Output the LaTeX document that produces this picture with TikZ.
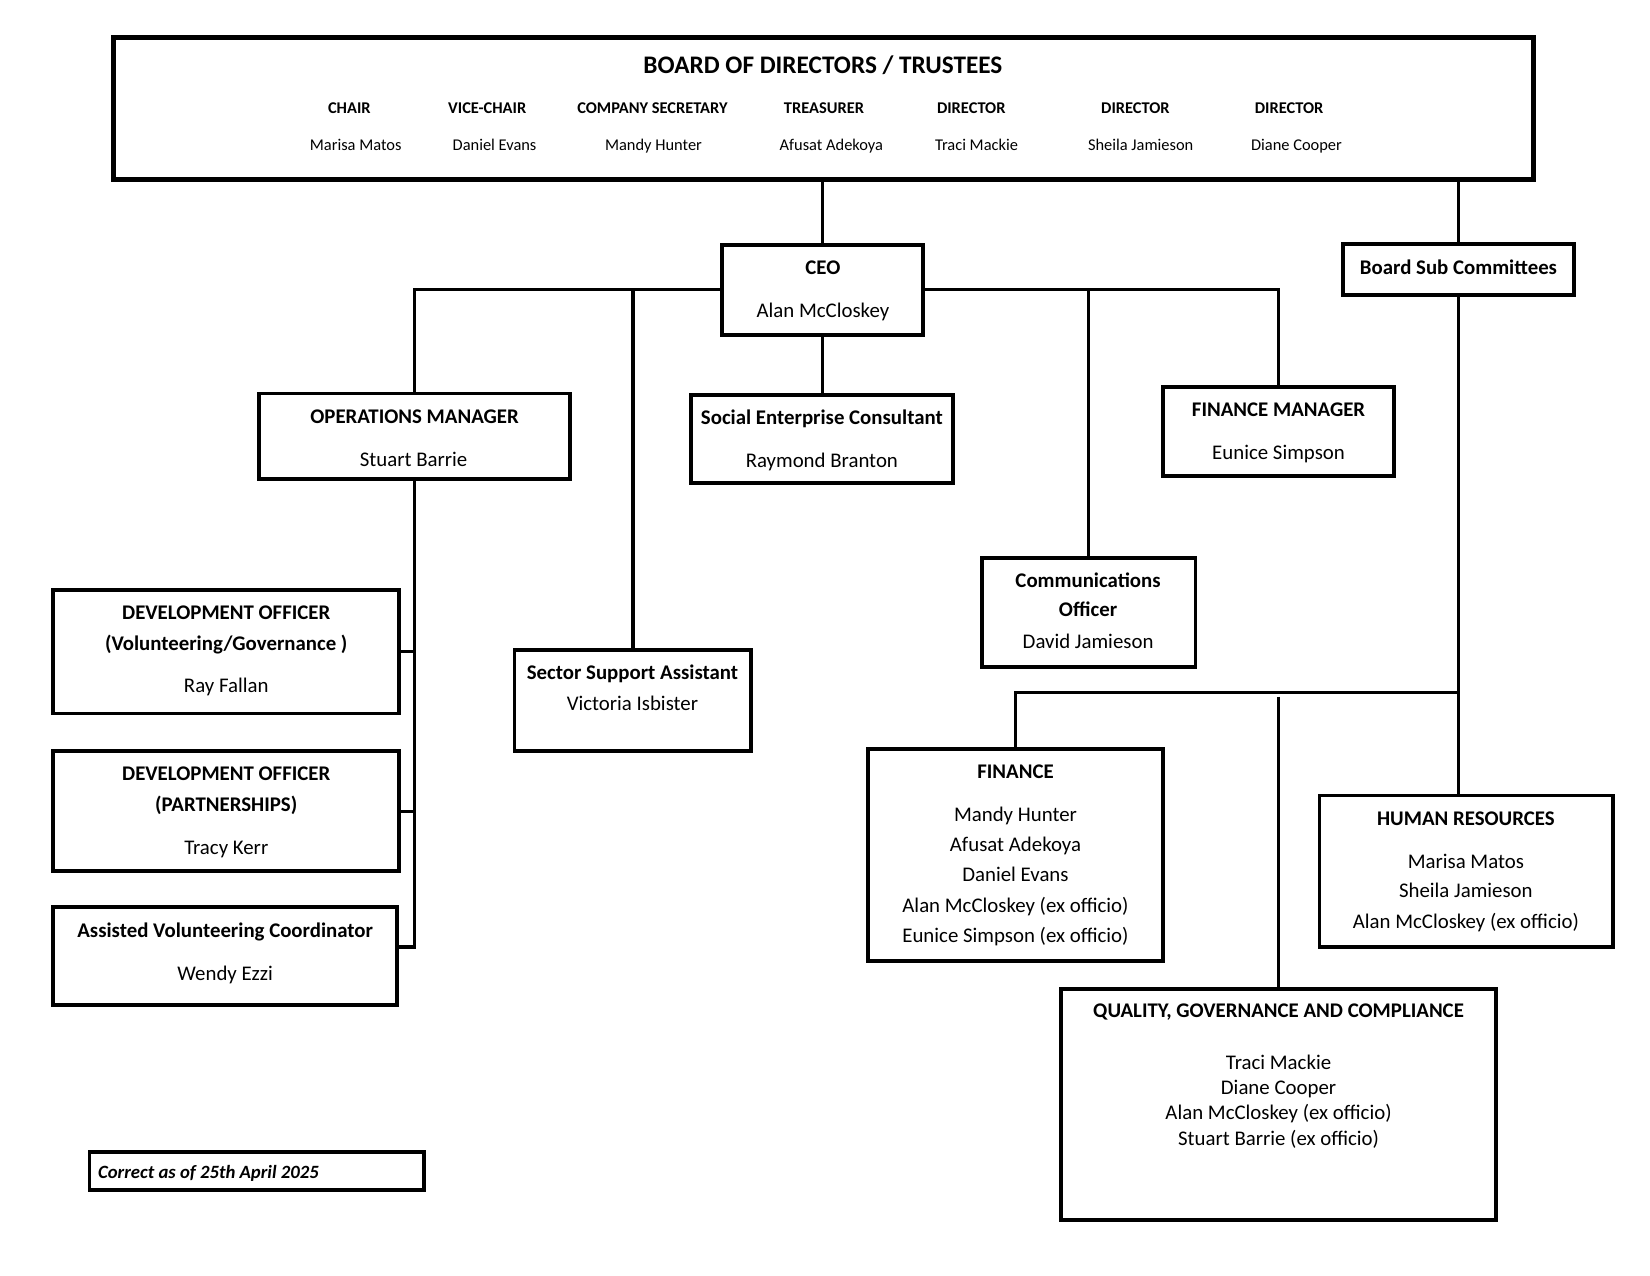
\documentclass[tikz,border=0pt]{standalone}
\usepackage{fontspec}
\setmainfont{Carlito}
\begin{document}
\begin{tikzpicture}[x=1pt,y=-1pt,
 box/.style={draw=black, line width=3.6pt, inner sep=0pt},
 bigbox/.style={draw=black, line width=4.8pt, inner sep=0pt},
 conn/.style={draw=black, line width=3pt},
 tb/.style={anchor=base, inner sep=0pt, font=\bfseries\fontsize{19.8}{23}\selectfont},
 tn/.style={anchor=base, inner sep=0pt, font=\fontsize{19.8}{23}\selectfont},
 role/.style={anchor=base, inner sep=0pt, font=\bfseries\fontsize{15.6}{18}\selectfont},
 nm/.style={anchor=base, inner sep=0pt, font=\fontsize{15.6}{18}\selectfont},
]
\useasboundingbox (0,0) rectangle (1568,1212);

% ---------- boxes ----------
\node[bigbox, minimum width=1349pt, minimum height=135pt] (board) at (782.5,103.5) {};
\node[box, minimum width=191pt, minimum height=85pt] (ceo) at (781.5,275.5) {};
\node[box, minimum width=220pt, minimum height=48pt] (bsc) at (1386,256) {};
\node[box, minimum width=296pt, minimum height=81pt] (ops) at (394,414.5) {};
\node[box, minimum width=249pt, minimum height=84pt] (sec) at (781.5,417) {};
\node[box, minimum width=220pt, minimum height=84pt] (finmgr) at (1215,410) {};
\node[box, minimum width=203pt, minimum height=104pt] (comms) at (1034.5,582) {};
\node[box, minimum width=329pt, minimum height=117pt] (dev1) at (214.5,619.5) {};
\node[box, minimum width=329pt, minimum height=114pt] (dev2) at (214.5,771) {};
\node[box, minimum width=327pt, minimum height=93pt] (avc) at (213.5,908.5) {};
\node[box, minimum width=225pt, minimum height=96pt] (ssa) at (601.5,666) {};
\node[box, minimum width=280pt, minimum height=201pt] (fin) at (965,812.5) {};
\node[box, minimum width=279pt, minimum height=144pt] (hr) at (1393.5,828) {};
\node[box, minimum width=414pt, minimum height=219pt] (qgc) at (1215,1049.5) {};
\node[box, minimum width=318pt, minimum height=36pt] (date) at (244,1113) {};

% ---------- junction points ----------
\coordinate (avcj) at (394,900);
\coordinate (cj) at (1386,658);
\coordinate (qj) at (1215,662);

% ---------- connectors ----------
\draw[conn] (ceo.north |- board.south) -- (ceo.north);
\draw[conn] (bsc.north |- board.south) -- (bsc.north);
\draw[conn] (ceo.west) -| (ops.north);
\draw[conn] (ssa.north |- ceo.west) -- (ssa.north);
\draw[conn] (ceo.east) -| (finmgr.north);
\draw[conn] (comms.north |- ceo.east) -- (comms.north);
\draw[conn] (ceo.south) -- (sec.north);
\draw[conn] (ops.south) -- (avcj) -- (avcj -| avc.east);
\draw[conn] (dev1.east) -- (dev1.east -| ops.south);
\draw[conn] (dev2.east) -- (dev2.east -| ops.south);
\draw[conn] (bsc.south) -- (bsc.south |- hr.north);
\draw[conn] (cj) -| (fin.north);
\draw[conn] (qj) -- (qgc.north);

% ---------- board text ----------
\node[anchor=base, inner sep=0pt, font=\bfseries\fontsize{24}{28}\selectfont] (boardT) at (782,70) {BOARD OF DIRECTORS / TRUSTEES};
\node[role] (r1) at (332,108) {CHAIR};
\node[role] (r2) at (463,108) {VICE-CHAIR};
\node[role] (r3) at (620,108) {COMPANY SECRETARY};
\node[role] (r4) at (783,108) {TREASURER};
\node[role] (r5) at (923,108) {DIRECTOR};
\node[role] (r6) at (1079,108) {DIRECTOR};
\node[role] (r7) at (1225,108) {DIRECTOR};
\node[nm] (n1) at (338,143) {Marisa Matos};
\node[nm] (n2) at (470,143) {Daniel Evans};
\node[nm] (n3) at (621,143) {Mandy Hunter};
\node[nm] (n4) at (790,143) {Afusat Adekoya};
\node[nm] (n5) at (928,143) {Traci Mackie};
\node[nm] (n6) at (1084,143) {Sheila Jamieson};
\node[nm] (n7) at (1232,143) {Diane Cooper};

% ---------- box texts ----------
\node[tb] (ceoT) at (782,261) {CEO};
\node[tn] (ceoN) at (782,302) {Alan McCloskey};
\node[tb] (bscT) at (1386,261) {Board Sub Committees};
\node[tb] (opsT) at (394,402) {OPERATIONS MANAGER};
\node[tn] (opsN) at (393,443) {Stuart Barrie};
\node[tb] (secT) at (781,403) {Social Enterprise Consultant};
\node[tn] (secN) at (781,444) {Raymond Branton};
\node[tb] (fmT) at (1215,396) {FINANCE MANAGER};
\node[tn] (fmN) at (1215,437) {Eunice Simpson};
\node[tb] (comT1) at (1034,558) {Communications};
\node[tb] (comT2) at (1034,586) {Officer};
\node[tn] (comN) at (1034,616) {David Jamieson};
\node[tb] (d1T1) at (215,589) {DEVELOPMENT OFFICER};
\node[tb] (d1T2) at (215,618) {(Volunteering/Governance )};
\node[tn] (d1N) at (215,658) {Ray Fallan};
\node[tb] (d2T1) at (215,742) {DEVELOPMENT OFFICER};
\node[tb] (d2T2) at (215,771) {(PARTNERSHIPS)};
\node[tn] (d2N) at (215,812) {Tracy Kerr};
\node[tb] (avcT) at (214,891) {Assisted Volunteering Coordinator};
\node[tn] (avcN) at (214,932) {Wendy Ezzi};
\node[tb] (ssaT) at (601,646) {Sector Support Assistant};
\node[tn] (ssaN) at (601,675) {Victoria Isbister};
\node[tb] (finT) at (965,740) {FINANCE};
\node[tn] (finN1) at (965,781) {Mandy Hunter};
\node[tn] (finN2) at (965,809) {Afusat Adekoya};
\node[tn] (finN3) at (965,838) {Daniel Evans};
\node[tn] (finN4) at (965,867) {Alan McCloskey (ex officio)};
\node[tn] (finN5) at (965,896) {Eunice Simpson (ex officio)};
\node[tb] (hrT) at (1393,784) {HUMAN RESOURCES};
\node[tn] (hrN1) at (1393,825) {Marisa Matos};
\node[tn] (hrN2) at (1393,853) {Sheila Jamieson};
\node[tn] (hrN3) at (1393,882) {Alan McCloskey (ex officio)};
\node[tb] (qT) at (1215,967) {QUALITY, GOVERNANCE AND COMPLIANCE};
\node[tn] (qN1) at (1215,1016) {Traci Mackie};
\node[tn] (qN2) at (1215,1040) {Diane Cooper};
\node[tn] (qN3) at (1215,1064) {Alan McCloskey (ex officio)};
\node[tn] (qN4) at (1215,1089) {Stuart Barrie (ex officio)};
\node[anchor=base west, inner sep=0pt, font=\bfseries\itshape\fontsize{17.8}{21}\selectfont] (dateT) at (93,1120) {Correct as of 25th April 2025};
\end{tikzpicture}
\end{document}
